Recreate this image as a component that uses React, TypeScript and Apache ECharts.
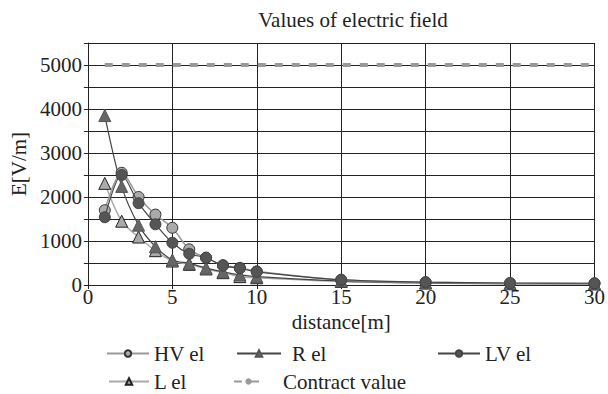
import React, { useEffect, useRef } from "react";
import * as echarts from "echarts";

const distances = [1, 2, 3, 4, 5, 6, 7, 8, 9, 10, 15, 20, 25, 30];
const hvEl = [1700, 2550, 2000, 1600, 1300, 810, 620, 450, 390, 310, 110, 60, 40, 35];
const rEl = [3850, 2240, 1360, 870, 570, 490, 385, 300, 230, 190, 90, 50, 30, 30];
const lvEl = [1540, 2500, 1860, 1380, 960, 710, 620, 440, 380, 300, 120, 65, 45, 40];
const lEl = [2310, 1450, 1090, 780, 545, 470, 365, 280, 190, 165, 80, 45, 30, 25];
const contractDistances = [1, 30];
const contractValue = [5000, 5000];
const yTickLabels = [0, 1000, 2000, 3000, 4000, 5000];

const FONT = "Liberation Serif";
const FS = 21;

export default function App() {
  const ref = useRef<HTMLDivElement>(null);
  useEffect(() => {
    document.body.style.margin = "0";
    if (!ref.current) return;
    const chart = echarts.init(ref.current, undefined, { renderer: "svg" });
    const pair = (xs: number[], ys: number[]) => xs.map((x, i) => [x, ys[i]]);
    const legendBase = {
      itemHeight: 8,
      textStyle: { fontFamily: FONT, fontSize: FS, color: "#222" },
      selectedMode: false,
    };
    chart.setOption({
      animation: false,
      backgroundColor: "#fff",
      title: {
        text: "Values of electric field",
        left: 348,
        top: 4,
        textAlign: "center",
        textStyle: { fontFamily: FONT, fontSize: FS, fontWeight: "normal", color: "#222" },
      },
      grid: { left: 84, right: 6, top: 43, bottom: 109, containLabel: false },
      xAxis: {
        type: "value",
        min: 0,
        max: 30,
        interval: 5,
        name: "distance[m]",
        nameLocation: "middle",
        nameGap: 22,
        nameTextStyle: { fontFamily: FONT, fontSize: FS, color: "#222" },
        axisLine: { show: true, lineStyle: { color: "#222", width: 1 } },
        axisTick: { show: true, length: 4, lineStyle: { color: "#222" } },
        axisLabel: { margin: 1, fontFamily: FONT, fontSize: FS, color: "#222" },
        splitLine: { show: true, lineStyle: { color: "#222", width: 1 } },
      },
      yAxis: {
        type: "value",
        min: 0,
        max: 5500,
        interval: 500,
        name: "E[V/m]",
        nameLocation: "middle",
        nameGap: 53,
        nameTextStyle: { fontFamily: FONT, fontSize: FS, color: "#222" },
        axisLine: { show: true, lineStyle: { color: "#222", width: 1 } },
        axisTick: { show: true, length: 4, lineStyle: { color: "#222" } },
        axisLabel: {
          margin: 6,
          fontFamily: FONT,
          fontSize: FS,
          color: "#222",
          formatter: (v: number) => (yTickLabels.includes(v) ? String(v) : ""),
        },
        splitLine: { show: true, lineStyle: { color: "#222", width: 1 } },
      },
      legend: [
        { ...legendBase, data: ["HV el"], left: 101, top: 338, itemWidth: 42 },
        { ...legendBase, data: ["R el"], left: 231, top: 338, itemWidth: 44, textStyle: { ...legendBase.textStyle, padding: [0, 0, 0, 6] } },
        { ...legendBase, data: ["LV el"], left: 432, top: 338, itemWidth: 42 },
        { ...legendBase, data: ["L el"], left: 103, top: 366, itemWidth: 40 },
        { ...legendBase, data: ["Contract value"], left: 228, top: 366, itemWidth: 29, textStyle: { ...legendBase.textStyle, padding: [0, 0, 0, 15] } },
      ],
      series: [
        {
          name: "Contract value",
          type: "line",
          data: pair(contractDistances, contractValue),
          showSymbol: false,
          symbol: "none",
          lineStyle: { color: "#999", width: 4, type: [8, 9] },
          itemStyle: { color: "#999" },
          z: 1,
        },
        {
          name: "L el",
          type: "line",
          data: pair(distances, lEl),
          smooth: 0.3,
          symbol: "triangle",
          symbolSize: 12,
          lineStyle: { color: "#aaa", width: 1.5 },
          itemStyle: { color: "#aaa", borderColor: "#222", borderWidth: 1 },
          z: 2,
        },
        {
          name: "R el",
          type: "line",
          data: pair(distances, rEl),
          smooth: 0.3,
          symbol: "triangle",
          symbolSize: 12,
          lineStyle: { color: "#444", width: 1.2 },
          itemStyle: { color: "#666", borderColor: "#555", borderWidth: 1 },
          z: 3,
        },
        {
          name: "HV el",
          type: "line",
          data: pair(distances, hvEl),
          smooth: 0.3,
          symbol: "circle",
          symbolSize: 11,
          lineStyle: { color: "#999", width: 1.5 },
          itemStyle: { color: "#aaa", borderColor: "#333", borderWidth: 1 },
          z: 4,
        },
        {
          name: "LV el",
          type: "line",
          data: pair(distances, lvEl),
          smooth: 0.3,
          symbol: "circle",
          symbolSize: 11,
          lineStyle: { color: "#444", width: 1.2 },
          itemStyle: { color: "#555", borderColor: "#444", borderWidth: 1 },
          z: 5,
        },
      ],
    });
    return () => chart.dispose();
  }, []);
  return <div ref={ref} style={{ width: 608, height: 394 }} />;
}
